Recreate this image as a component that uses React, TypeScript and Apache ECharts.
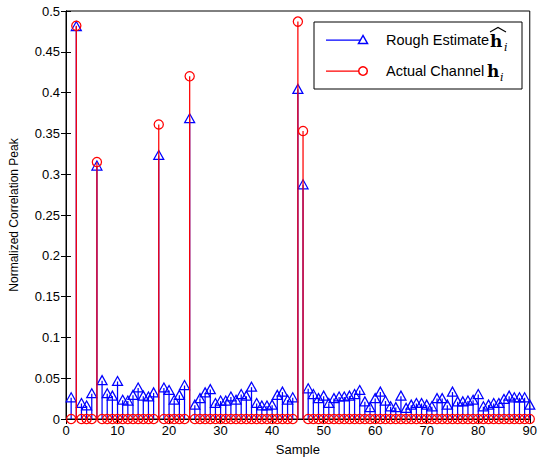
import React, { useEffect, useRef } from "react";
import * as echarts from "echarts";

const samples = [
  1, 2, 3, 4, 5, 6, 7, 8, 9, 10, 11, 12, 13, 14, 15, 16, 17, 18, 19, 20,
  21, 22, 23, 24, 25, 26, 27, 28, 29, 30, 31, 32, 33, 34, 35, 36, 37, 38, 39, 40,
  41, 42, 43, 44, 45, 46, 47, 48, 49, 50, 51, 52, 53, 54, 55, 56, 57, 58, 59, 60,
  61, 62, 63, 64, 65, 66, 67, 68, 69, 70, 71, 72, 73, 74, 75, 76, 77, 78, 79, 80,
  81, 82, 83, 84, 85, 86, 87, 88, 89, 90,
];

const roughEstimate = [
  0.026, 0.481, 0.019, 0.016, 0.031, 0.31, 0.047, 0.031, 0.028, 0.046,
  0.023, 0.022, 0.029, 0.038, 0.028, 0.027, 0.032, 0.323, 0.038, 0.035,
  0.023, 0.029, 0.041, 0.368, 0.017, 0.025, 0.032, 0.036, 0.019, 0.022,
  0.022, 0.027, 0.023, 0.03, 0.028, 0.039, 0.019, 0.016, 0.016, 0.017,
  0.029, 0.033, 0.023, 0.026, 0.404, 0.287, 0.037, 0.03, 0.025, 0.028,
  0.019, 0.025, 0.027, 0.027, 0.028, 0.03, 0.035, 0.021, 0.014, 0.025,
  0.033, 0.022, 0.015, 0.014, 0.028, 0.013, 0.017, 0.019, 0.019, 0.017,
  0.015, 0.025, 0.025, 0.017, 0.033, 0.021, 0.021, 0.022, 0.023, 0.03,
  0.015, 0.017, 0.019, 0.019, 0.024, 0.028, 0.026, 0.026, 0.026, 0.017,
];

const channelTaps = [2, 6, 18, 24, 45, 46];
const channelGains = [0.482, 0.315, 0.361, 0.42, 0.487, 0.353];

const xTicks = [0, 10, 20, 30, 40, 50, 60, 70, 80, 90];
const yTicks = [0, 0.05, 0.1, 0.15, 0.2, 0.25, 0.3, 0.35, 0.4, 0.45, 0.5];

const BLUE = "#0000ff";
const RED = "#ff0000";
const FONT = "'Liberation Sans', Arial, Helvetica, sans-serif";
const SERIF = "'DejaVu Serif', 'Liberation Serif', serif";
const LW = 1.25;

export default function App() {
  const ref = useRef<HTMLDivElement>(null);

  useEffect(() => {
    if (!ref.current) return;
    const chart = echarts.init(ref.current, undefined, { renderer: "svg" });

    const blueData = samples.map((s, i) => [s, roughEstimate[i]]);
    const redData = samples.map((s) => {
      const idx = channelTaps.indexOf(s);
      return [s, idx >= 0 ? channelGains[idx] : 0];
    });

    const stemRenderer = (kind: "tri" | "circ") => (params: any, api: any) => {
      const x = api.value(0);
      const v = api.value(1);
      const top = api.coord([x, v]);
      const base = api.coord([x, 0]);
      const color = kind === "tri" ? BLUE : RED;
      const marker =
        kind === "tri"
          ? {
              type: "polygon",
              shape: {
                points: [
                  [top[0], top[1] - 5],
                  [top[0] - 5, top[1] + 4],
                  [top[0] + 5, top[1] + 4],
                ],
              },
              style: { fill: "none", stroke: color, lineWidth: LW },
            }
          : {
              type: "circle",
              shape: { cx: top[0], cy: top[1], r: 4.6 },
              style: { fill: "none", stroke: color, lineWidth: LW },
            };
      return {
        type: "group",
        children: [
          {
            type: "line",
            shape: { x1: base[0], y1: base[1], x2: top[0], y2: top[1] },
            style: { stroke: color, lineWidth: LW },
          },
          marker,
        ],
      };
    };

    const axisCommon = {
      type: "value" as const,
      axisLine: { show: true, lineStyle: { color: "#000", width: 1 } },
      splitLine: { show: false },
    };

    const lx = 326;
    const option: any = {
      animation: false,
      grid: {
        left: 64,
        right: 3,
        top: 11,
        bottom: 45,
        show: true,
        borderColor: "#000",
        borderWidth: 1,
        backgroundColor: "#fff",
      },
      xAxis: [
        {
          ...axisCommon,
          position: "bottom",
          min: xTicks[0],
          max: xTicks[xTicks.length - 1],
          interval: 10,
          axisTick: { show: true, inside: true, length: 5, lineStyle: { color: "#000" } },
          axisLabel: { color: "#000", fontSize: 13, fontFamily: FONT, margin: 5 },
          name: "Sample",
          nameLocation: "middle",
          nameGap: 24,
          nameTextStyle: { color: "#000", fontSize: 13, fontFamily: FONT },
        },
        {
          ...axisCommon,
          position: "top",
          min: xTicks[0],
          max: xTicks[xTicks.length - 1],
          interval: 10,
          axisTick: { show: true, inside: true, length: 5, lineStyle: { color: "#000" } },
          axisLabel: { show: false },
        },
      ],
      yAxis: [
        {
          ...axisCommon,
          position: "left",
          min: yTicks[0],
          max: yTicks[yTicks.length - 1],
          interval: 0.05,
          axisTick: { show: true, inside: true, length: 5, lineStyle: { color: "#000" } },
          axisLabel: { color: "#000", fontSize: 13, fontFamily: FONT, margin: 6 },
          name: "Normalized Correlation Peak",
          nameLocation: "middle",
          nameGap: 46,
          nameTextStyle: { color: "#000", fontSize: 12, fontFamily: FONT },
        },
        {
          ...axisCommon,
          position: "right",
          min: yTicks[0],
          max: yTicks[yTicks.length - 1],
          interval: 0.05,
          axisTick: { show: true, inside: true, length: 5, lineStyle: { color: "#000" } },
          axisLabel: { show: false },
        },
      ],
      series: [
        {
          type: "custom",
          name: "Rough Estimate",
          xAxisIndex: 0,
          yAxisIndex: 0,
          renderItem: stemRenderer("tri"),
          data: blueData,
          clip: false,
          z: 2,
        },
        {
          type: "custom",
          name: "Actual Channel",
          xAxisIndex: 0,
          yAxisIndex: 0,
          renderItem: stemRenderer("circ"),
          data: redData,
          clip: false,
          z: 3,
        },
      ],
      graphic: [
        {
          type: "rect",
          shape: { x: 314, y: 22, width: 208, height: 67 },
          style: { fill: "#fff", stroke: "#000", lineWidth: 1 },
          z: 10,
        },
        {
          type: "line",
          shape: { x1: lx, y1: 40, x2: lx + 37, y2: 40 },
          style: { stroke: BLUE, lineWidth: LW },
          z: 11,
        },
        {
          type: "polygon",
          shape: { points: [[lx + 37, 35.5], [lx + 32.5, 43.5], [lx + 41.5, 43.5]] },
          style: { fill: "#fff", stroke: BLUE, lineWidth: 1.5 },
          z: 11,
        },
        {
          type: "line",
          shape: { x1: lx, y1: 71, x2: lx + 37, y2: 71 },
          style: { stroke: RED, lineWidth: LW },
          z: 11,
        },
        {
          type: "circle",
          shape: { cx: lx + 37, cy: 71, r: 4.3 },
          style: { fill: "#fff", stroke: RED, lineWidth: 1.5 },
          z: 11,
        },
        {
          type: "text",
          x: 386,
          y: 40,
          style: {
            text: "Rough Estimate",
            fontSize: 14.5,
            fontFamily: FONT,
            fill: "#000",
            verticalAlign: "middle",
          },
          z: 11,
        },
        {
          type: "text",
          x: 490,
          y: 41,
          style: {
            text: "h",
            fontSize: 17,
            fontWeight: "bold",
            fontFamily: SERIF,
            fill: "#000",
            verticalAlign: "middle",
          },
          z: 11,
        },
        {
          type: "polyline",
          shape: { points: [[490, 32], [498, 27.5], [506, 32]] },
          style: { stroke: "#000", lineWidth: 1.1, fill: "none" },
          z: 11,
        },
        {
          type: "text",
          x: 504,
          y: 47,
          style: {
            text: "i",
            fontSize: 11,
            fontStyle: "italic",
            fontFamily: SERIF,
            fill: "#000",
            verticalAlign: "middle",
          },
          z: 11,
        },
        {
          type: "text",
          x: 386,
          y: 71,
          style: {
            text: "Actual Channel",
            fontSize: 14.5,
            fontFamily: FONT,
            fill: "#000",
            verticalAlign: "middle",
          },
          z: 11,
        },
        {
          type: "text",
          x: 487,
          y: 71,
          style: {
            text: "h",
            fontSize: 17,
            fontWeight: "bold",
            fontFamily: SERIF,
            fill: "#000",
            verticalAlign: "middle",
          },
          z: 11,
        },
        {
          type: "text",
          x: 500,
          y: 77,
          style: {
            text: "i",
            fontSize: 11,
            fontStyle: "italic",
            fontFamily: SERIF,
            fill: "#000",
            verticalAlign: "middle",
          },
          z: 11,
        },
      ],
    };

    chart.setOption(option);
    return () => chart.dispose();
  }, []);

  return (
    <div
      ref={ref}
      style={{ position: "fixed", left: 0, top: 0, width: 540, height: 464, background: "#fff" }}
    />
  );
}
